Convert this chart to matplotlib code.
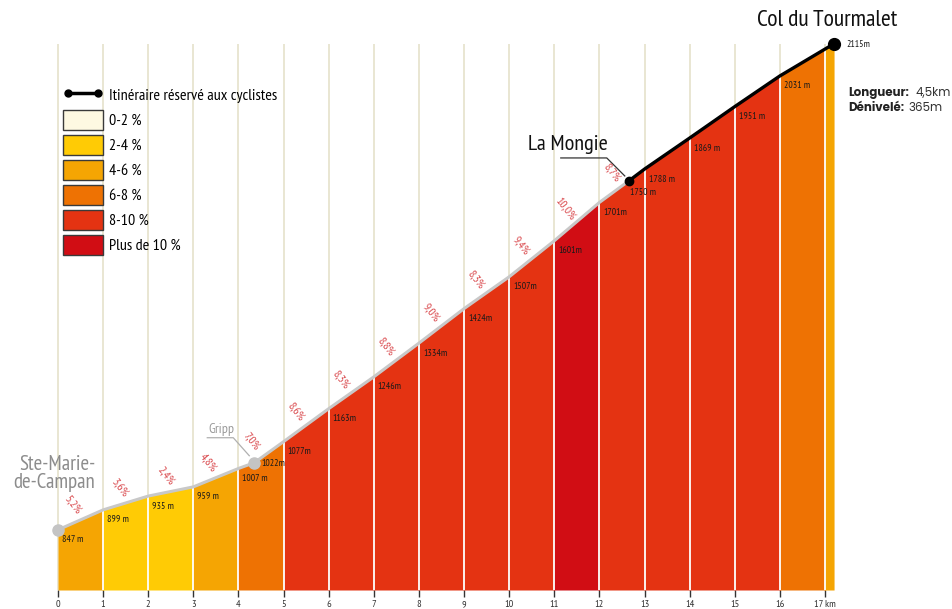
import numpy as np
import matplotlib
matplotlib.use("Agg")
import matplotlib.pyplot as plt
from matplotlib.patches import Patch, Rectangle
from matplotlib.lines import Line2D

plt.rcParams['font.family'] = ['PT Sans Narrow', 'Asap Condensed', 'Archivo Narrow', 'DejaVu Sans']

# profile (km, altitude m)
km = [0, 1, 2, 3, 4, 4.35, 5, 6, 7, 8, 9, 10, 11, 12, 12.65, 13, 14, 15, 16, 17.2]
alt = [847, 899, 935, 959, 1007, 1022, 1077, 1163, 1246, 1334, 1424, 1507, 1601, 1701,
       1757, 1788, 1869, 1951, 2031, 2115]
alt_labels = ['847 m', '899 m', '935 m', '959 m', '1007 m', '1022m', '1077m', '1163m',
              '1246m', '1334m', '1424m', '1507m', '1601m', '1701m', '1750 m', '1788 m',
              '1869 m', '1951 m', '2031 m', '2115m']

# gradient per km segment
grade_start = [0, 1, 2, 3, 4, 5, 6, 7, 8, 9, 10, 11, 12]
grade_start_alt = [847, 899, 935, 959, 1007, 1077, 1163, 1246, 1334, 1424, 1507, 1601, 1701]
grade_end_alt = [899, 935, 959, 1007, 1077, 1163, 1246, 1334, 1424, 1507, 1601, 1701, 1788]
grade_txt = ['5,2%', '3,6%', '2,4%', '4,8%', '7,0%', '8,6%', '8,3%', '8,8%', '9,0%',
             '8,3%', '9,4%', '10,0%', '8,7%']

# colour bands (from km, to km, class)
band_from = [0, 1, 3, 4, 5, 11, 12, 16, 17]
band_to = [1, 3, 4, 5, 11, 12, 16, 17, 17.2]
band_cls = [2, 1, 2, 3, 4, 5, 4, 3, 2]

cls_names = ['0-2 %', '2-4 %', '4-6 %', '6-8 %', '8-10 %', 'Plus de 10 %']
cls_cols = ['#FEF9E2', '#FFCB05', '#F5A503', '#EE7203', '#E43312', '#D10D14']

base = 690
top = 2229
fig = plt.figure(figsize=(9.52, 6.09), dpi=100)
ax = fig.add_axes([0, 19 / 609, 1, 590 / 609])
ax.set_xlim(-58 / 45.12, (952 - 58) / 45.12)
ax.set_ylim(base, top)
for s in ax.spines.values():
    s.set_visible(False)
ax.set_yticks([])
ticks = list(range(18))
ax.set_xticks(ticks)
ax.set_xticklabels([str(t) for t in ticks[:-1]] + ['17 km'])
ax.tick_params(axis='x', length=5, width=1, color='#333333', labelsize=7.5,
               labelcolor='#333333', pad=2.5)

# beige grid lines above the profile
ax.vlines(ticks, base, 2115, color='#E5E1CB', lw=1.2, zorder=1)

# coloured profile
shape = ax.fill_between(km, base, alt, color='none', lw=0, zorder=0)
clip_path = shape.get_paths()[0]
for a, b, c in zip(band_from, band_to, band_cls):
    poly = ax.fill_between(km, base, alt, color=cls_cols[c], lw=0, zorder=2)
    poly.set_clip_path(Rectangle((a, base), b - a, top - base, transform=ax.transData))

# white lines inside profile
wl = ax.vlines(ticks[1:], base, top, color='white', lw=1.3, zorder=3)
wl.set_clip_path(clip_path, ax.transData)

# outline: road (grey) and cyclists-only section (black)
i_m = km.index(12.65)
ax.plot(km[:i_m + 1], alt[:i_m + 1], color='#C8C8C8', lw=2.2, zorder=4,
        solid_capstyle='round')
ax.plot(km[i_m:], alt[i_m:], color='black', lw=2.4, zorder=5, solid_capstyle='round')
ax.plot([0, 4.35], [847, 1022], 'o', color='#C4C4C4', ms=8, zorder=6)
ax.plot([12.65], [1757], 'o', color='black', ms=6, zorder=6)
ax.plot([17.2], [2115], 'o', color='black', ms=8.5, zorder=6)

# altitude labels
offs = {5: (7, -1), 19: (12, -1), 14: (1, -12)}
for i, (k, a, t) in enumerate(zip(km, alt, alt_labels)):
    dx, dy = offs.get(i, (4, -10))
    ax.annotate(t, (k, a), xytext=(dx, dy), textcoords='offset pixels',
                fontsize=7, color='#1a1a1a', ha='left', va='center', zorder=7)

# gradient labels
pxkm, pxm = 45.12, 590 / (top - base)
for s, a1, a2, t in zip(grade_start, grade_start_alt, grade_end_alt, grade_txt):
    dxp, dyp = pxkm, (a2 - a1) * pxm
    n = np.hypot(dxp, dyp)
    ox, oy = -dyp / n * 15, dxp / n * 15
    ax.annotate(t, (s + 0.5, (a1 + a2) / 2), xytext=(ox - 2, oy + 1), textcoords='offset pixels',
                fontsize=8.5, color='#D9474B', rotation=-52, ha='center', va='center',
                rotation_mode='anchor', zorder=7)

# place names
ax.text(0.83, 847 + 56 / pxm, 'Ste-Marie-\nde-Campan', fontsize=15, color='#8C8C8C',
        ha='right', va='center', multialignment='right', linespacing=0.95)
gx, gy = 4.35, 1022
ax.plot([gx - 47 / pxkm, gx - 21 / pxkm, gx - 5 / pxkm],
        [gy + 25 / pxm, gy + 25 / pxm, gy + 7 / pxm], color='#B0B0B0', lw=0.9, zorder=5)
ax.text(gx - 33 / pxkm, gy + 33 / pxm, 'Gripp', fontsize=10, color='#9A9A9A',
        ha='center', va='center')
mx, my = 12.65, 1757
ax.plot([mx - 68 / pxkm, mx - 22 / pxkm, mx - 4 / pxkm],
        [my + 23 / pxm, my + 23 / pxm, my + 5 / pxm], color='#333333', lw=0.9, zorder=5)
ax.text(mx - 61 / pxkm, my + 36 / pxm, 'La Mongie', fontsize=16, color='#111111',
        ha='center', va='center')
ax.text(17.2 - 7 / pxkm, 2115 + 23 / pxm, 'Col du Tourmalet', fontsize=17,
        color='#111111', ha='center', va='center')

# stats
stat_font = ['Poppins', 'Lato', 'DejaVu Sans']
fig.text(848 / 952, 1 - 93 / 609, 'Longueur:', fontsize=8.5, fontweight='bold',
         family=stat_font, color='#222222', va='center')
fig.text(915 / 952, 1 - 93 / 609, '4,5km', fontsize=8.5, family=stat_font,
         color='#333333', va='center')
fig.text(848 / 952, 1 - 108 / 609, 'Dénivelé:', fontsize=8.5, fontweight='bold',
         family=stat_font, color='#222222', va='center')
fig.text(908 / 952, 1 - 108 / 609, '365m', fontsize=8.5, family=stat_font,
         color='#333333', va='center')

# legend
handles = [Line2D([], [], color='black', lw=2.5, marker='o', ms=5)]
handles += [Patch(facecolor=c, edgecolor='#3a3a3a', lw=1) for c in cls_cols]
labels = ['Itinéraire réservé aux cyclistes'] + cls_names
ax.legend(handles, labels, loc='upper left', bbox_to_anchor=(63 / 952, 1 - 85 / 609),
          bbox_transform=fig.transFigure, frameon=False, fontsize=11.5, numpoints=2,
          handlelength=2.5, handleheight=1.55, labelspacing=0.31, handletextpad=0.37,
          borderpad=0, borderaxespad=0)

fig.savefig('out.png', dpi=100)
